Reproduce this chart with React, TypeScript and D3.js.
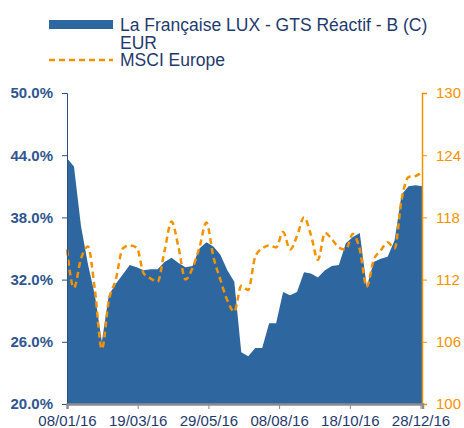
import React, { useEffect, useRef } from "react";
import * as d3 from "d3";

// weekly observations, first Friday of 2016 to last
const startDate = "2016-01-08";
const fundValues = [
  43.7, 42.9, 37.2, 33.5, 30.5, 26.0, 30.5, 31.6, 32.5, 33.4,
  33.2, 32.9, 33.0, 33.0, 33.7, 34.1, 33.6, 33.2, 33.3, 35.0,
  35.6, 35.2, 34.4, 32.9, 31.8, 25.0, 24.6, 25.4, 25.4, 27.8,
  27.8, 30.8, 30.5, 30.8, 32.7, 32.6, 32.2, 32.9, 33.3, 33.4,
  35.5, 36.1, 36.5, 31.3, 33.7, 34.0, 34.2, 35.8, 40.2, 41.0,
  41.1, 41.0
];
const msciValues = [
  114.9, 111.2, 114.0, 115.2, 111.0, 105.3, 110.0, 112.0, 115.0, 115.3,
  115.1, 112.6, 112.1, 111.8, 114.8, 117.6, 115.1, 112.0, 113.1, 115.1,
  117.5, 114.2, 112.0, 110.0, 108.9, 111.4, 111.0, 114.2, 115.0, 115.3,
  115.1, 116.6, 114.9, 116.2, 118.0, 116.3, 113.9, 116.5, 115.9, 115.1,
  114.9, 116.4, 114.9, 111.3, 113.9, 114.8, 115.6, 115.0, 119.7, 121.9,
  122.0, 122.4
];
const xTickLabels = ["08/01/16", "19/03/16", "29/05/16", "08/08/16", "18/10/16", "28/12/16"];
const leftTicks = [20, 26, 32, 38, 44, 50];
const rightTicks = [100, 106, 112, 118, 124, 130];
const fundName = ["La Française LUX - GTS Réactif - B (C)", "EUR"];
const indexName = "MSCI Europe";

const W = 464;
const H = 428;
const m = { left: 67, right: 42, top: 93, bottom: 24 };
const BLUE = "#2e67a0";
const ORANGE = "#f39200";
const NAVY = "#1f3a6e";
const FONT = "'Liberation Sans', Arial, sans-serif";

export default function App() {
  const ref = useRef<SVGSVGElement>(null);

  useEffect(() => {
    const svg = d3.select(ref.current);
    svg.selectAll("*").remove();

    const parse = d3.timeParse("%Y-%m-%d");
    const fmt = d3.timeParse("%d/%m/%y");
    const t0 = parse(startDate) as Date;
    const dates = fundValues.map((_, i) => d3.timeDay.offset(t0, i * 7));

    const x = d3.scaleTime()
      .domain([dates[0], dates[dates.length - 1]])
      .range([m.left, W - m.right + 0.5]);
    const yL = d3.scaleLinear().domain([20, 50]).range([H - m.bottom, m.top]);
    const yR = d3.scaleLinear().domain([100, 130]).range([H - m.bottom, m.top]);

    const area = d3.area<number>()
      .x((_, i) => x(dates[i]))
      .y0(yL(20))
      .y1(d => yL(d));
    svg.append("path").datum(fundValues).attr("fill", BLUE).attr("d", area);

    const line = d3.line<number>()
      .x((_, i) => x(dates[i]))
      .y(d => yR(d))
      .curve(d3.curveMonotoneX);
    svg.append("path").datum(msciValues)
      .attr("fill", "none")
      .attr("stroke", ORANGE)
      .attr("stroke-width", 2.5)
      .attr("stroke-dasharray", "6,4")
      .attr("d", line);

    // left axis
    const gl = svg.append("g")
      .attr("transform", `translate(${m.left},0)`)
      .call(d3.axisLeft(yL).tickValues(leftTicks).tickSize(5).tickPadding(9)
        .tickFormat(d => `${(+d).toFixed(1)}%`));
    gl.select(".domain").attr("stroke", "#2c4f85");
    gl.selectAll("line").attr("stroke", "#2c4f85");
    gl.selectAll("text").attr("fill", "#2f5690").attr("font-weight", "bold")
      .attr("font-size", 15).attr("font-family", FONT);

    // right axis
    const gr = svg.append("g")
      .attr("transform", `translate(${W - m.right},0)`)
      .call(d3.axisRight(yR).tickValues(rightTicks).tickSize(5).tickPadding(9));
    gr.select(".domain").attr("stroke", ORANGE).attr("stroke-width", 1.5);
    gr.selectAll("line").attr("stroke", ORANGE);
    gr.selectAll("text").attr("fill", ORANGE)
      .attr("font-size", 15).attr("font-family", FONT);

    // bottom axis
    const gb = svg.append("g")
      .attr("transform", `translate(0,${H - m.bottom})`)
      .call(d3.axisBottom(x).tickValues(xTickLabels.map(s => fmt(s) as Date))
        .tickSize(5).tickPadding(6).tickFormat(d3.timeFormat("%d/%m/%y") as any));
    gb.select(".domain").attr("stroke", "#8c8c8c").attr("stroke-width", 2.5);
    gb.selectAll("line").attr("stroke", "#8c8c8c");
    gb.selectAll("text").attr("fill", NAVY)
      .attr("font-size", 15).attr("font-family", FONT);

    // legend
    const lg = svg.append("g").attr("font-family", FONT).attr("font-size", 17.5).attr("fill", NAVY);
    lg.append("rect").attr("x", 49).attr("y", 20).attr("width", 64).attr("height", 9).attr("fill", BLUE);
    lg.append("text").attr("x", 120).attr("y", 31).text(fundName[0]);
    lg.append("text").attr("x", 120).attr("y", 49).text(fundName[1]);
    lg.append("line").attr("x1", 49).attr("x2", 113).attr("y1", 60).attr("y2", 60)
      .attr("stroke", ORANGE).attr("stroke-width", 2.5).attr("stroke-dasharray", "6,4");
    lg.append("text").attr("x", 120).attr("y", 66).text(indexName);
  }, []);

  return (
    <svg ref={ref} width={W} height={H}
      style={{ position: "absolute", left: 0, top: 0, background: "#fff" }} />
  );
}
